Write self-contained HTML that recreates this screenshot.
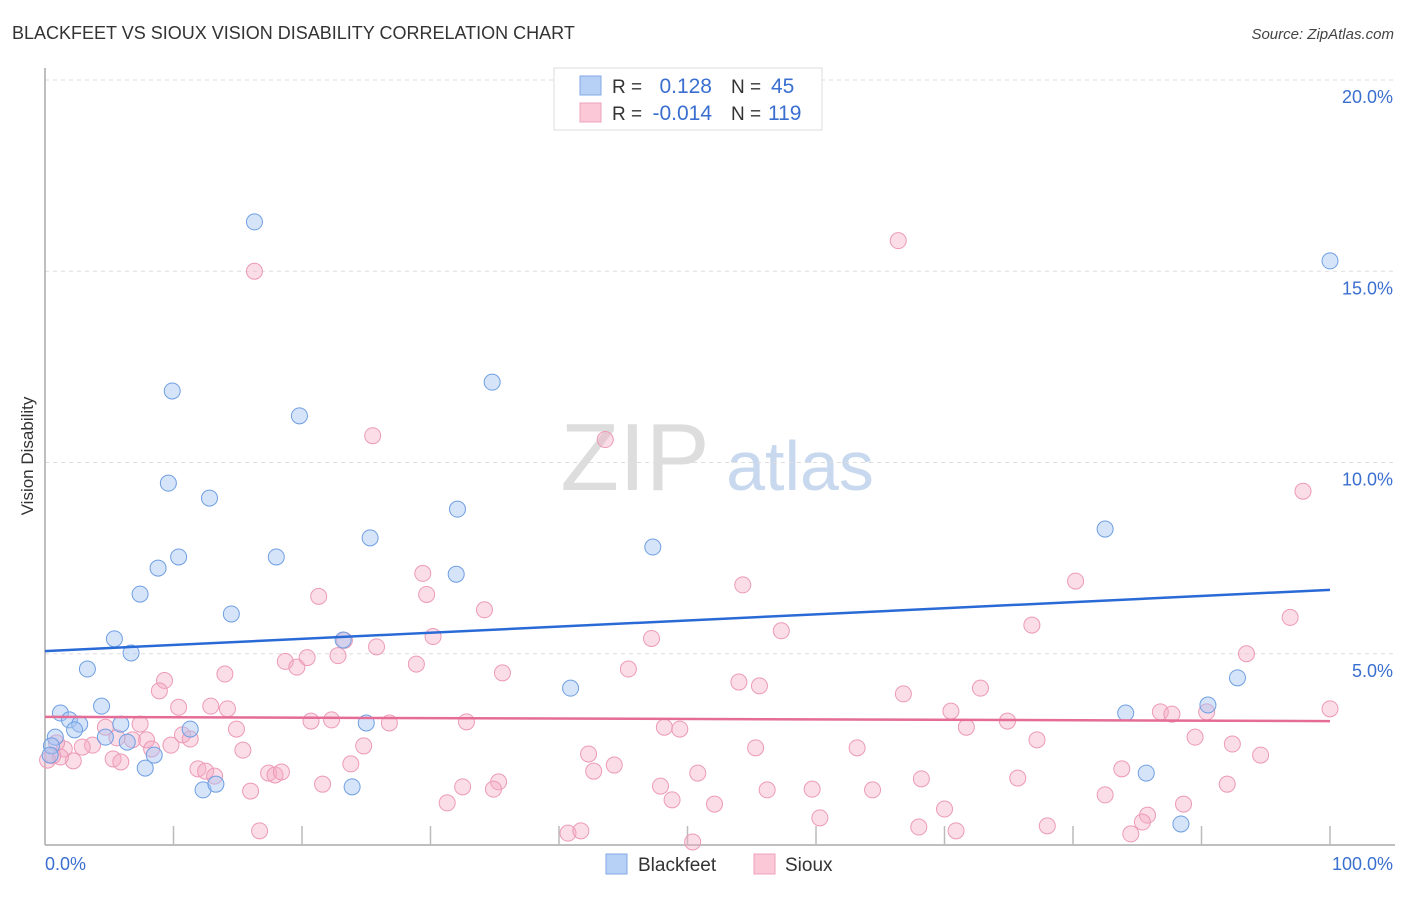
<!DOCTYPE html>
<html><head><meta charset="utf-8"><style>
body{margin:0;background:#fff;font-family:"Liberation Sans",sans-serif}
svg text{font-family:"Liberation Sans",sans-serif}
</style></head><body>
<svg id="chart" width="1406" height="892" xmlns="http://www.w3.org/2000/svg">
<text x="12" y="39" font-size="18" fill="#333">BLACKFEET VS SIOUX VISION DISABILITY CORRELATION CHART</text>
<text x="1394" y="39" font-size="15" fill="#444" text-anchor="end" font-style="italic">Source: ZipAtlas.com</text>
<text transform="translate(33,456) rotate(-90)" font-size="17" fill="#333" text-anchor="middle">Vision Disability</text>
<g>
<text x="635" y="490" font-size="96" fill="#ddd" text-anchor="middle" font-family="Liberation Serif">ZIP</text>
<text x="800" y="490" font-size="70" fill="#c8d8ee" text-anchor="middle">atlas</text>
</g>
<g id="grid"></g>
<line x1="45" y1="68" x2="45" y2="845" stroke="#aaa" stroke-width="1.5"/>
<line x1="45" y1="845" x2="1395" y2="845" stroke="#aaa" stroke-width="1.5"/>
<g id="ticks"></g>
<g id="pts"></g>
<g id="lines"></g>
<g>
<rect x="554" y="68" width="268" height="62" fill="#fff" stroke="#ddd"/>
<rect x="580" y="76" width="21" height="19" fill="#b7d0f5" stroke="#82aae6"/>
<rect x="580" y="103" width="21" height="19" fill="#fbc8d8" stroke="#eea0ba"/>
<text x="612" y="93" font-size="19" fill="#333">R =</text>
<text x="712" y="93" font-size="21" fill="#3a6fd0" text-anchor="end">0.128</text>
<text x="731" y="93" font-size="19" fill="#333">N =</text>
<text x="771" y="93" font-size="21" fill="#3a6fd0">45</text>
<text x="612" y="120" font-size="19" fill="#333">R =</text>
<text x="712" y="120" font-size="21" fill="#3a6fd0" text-anchor="end">-0.014</text>
<text x="731" y="120" font-size="19" fill="#333">N =</text>
<text x="768" y="120" font-size="21" fill="#3a6fd0">119</text>
</g>
<g>
<rect x="606" y="854" width="21" height="20" fill="#b7d0f5" stroke="#82aae6"/>
<text x="638" y="871" font-size="19" fill="#333">Blackfeet</text>
<rect x="754" y="854" width="21" height="20" fill="#fbc8d8" stroke="#eea0ba"/>
<text x="785" y="871" font-size="19" fill="#333">Sioux</text>
</g>
<text x="45" y="870" font-size="18" fill="#3a6fd0">0.0%</text>
<text x="1393" y="870" font-size="18" fill="#3a6fd0" text-anchor="end">100.0%</text>
</svg>
<script>
const yTicks=[5,10,15,20];
const yTickLabels=["5.0%","10.0%","15.0%","20.0%"];
const xTicks=[10,20,30,40,50,60,70,80,90,100];
const blackX=[16.3,100,9.9,34.8,19.8,9.6,12.8,32.1,82.5,25.3,47.3,10.4,18.0,8.8,32.0,7.4,14.5,5.4,6.7,23.2,3.3,40.9,92.8,4.4,1.2,90.5,84.1,1.9,2.7,5.9,2.3,11.3,25.0,0.8,4.7,6.4,0.5,8.5,7.8,85.7,12.3,13.3,23.9,88.4,0.4];
const blackY=[16.29,15.27,11.87,12.10,11.22,9.46,9.07,8.78,8.26,8.03,7.79,7.53,7.53,7.24,7.08,6.56,6.04,5.39,5.02,5.36,4.60,4.10,4.37,3.63,3.45,3.66,3.45,3.27,3.16,3.16,3.01,3.03,3.19,2.82,2.82,2.69,2.59,2.35,2.01,1.88,1.44,1.59,1.52,0.55,2.35];
const siouxX=[16.3,66.4,25.5,43.6,97.9,29.4,54.3,80.2,21.3,29.7,34.2,96.9,76.8,57.3,47.2,30.2,23.3,25.8,18.7,19.6,20.4,22.8,28.9,35.6,45.4,93.5,14.0,9.3,8.9,54.0,55.6,66.8,72.8,10.4,12.9,14.2,70.5,86.8,87.7,90.4,100,7.4,4.7,20.7,22.3,26.8,32.8,74.9,48.2,49.4,71.7,14.9,10.7,7.9,6.8,11.3,5.6,3.7,2.9,1.5,0.9,89.5,77.2,92.4,15.4,8.3,9.8,24.8,63.2,55.3,42.3,94.6,5.3,2.2,1.2,5.9,23.8,44.3,11.9,12.5,42.7,13.2,17.4,17.9,18.4,50.8,68.2,75.7,83.8,92.0,21.6,32.5,35.3,47.9,34.9,56.2,59.7,64.4,16.0,82.5,31.3,48.8,52.1,70.0,88.6,60.3,85.8,85.4,68.0,70.9,78.0,16.7,40.7,41.7,84.5,50.4,0.6,0.2];
const siouxY=[15.0,15.8,10.7,10.6,9.25,7.1,6.8,6.9,6.5,6.55,6.15,5.95,5.75,5.6,5.4,5.45,5.35,5.18,4.8,4.65,4.9,4.95,4.73,4.5,4.6,5.0,4.47,4.3,4.03,4.26,4.16,3.95,4.1,3.6,3.63,3.56,3.5,3.48,3.42,3.48,3.56,3.16,3.08,3.24,3.27,3.19,3.22,3.24,3.08,3.03,3.08,3.03,2.88,2.75,2.75,2.77,2.8,2.61,2.56,2.51,2.67,2.82,2.75,2.64,2.48,2.51,2.61,2.59,2.54,2.54,2.38,2.35,2.25,2.2,2.3,2.17,2.12,2.09,1.99,1.93,1.93,1.8,1.88,1.83,1.91,1.88,1.73,1.75,1.99,1.59,1.59,1.52,1.65,1.54,1.46,1.44,1.46,1.44,1.41,1.31,1.1,1.18,1.07,0.94,1.07,0.71,0.78,0.6,0.47,0.37,0.5,0.37,0.31,0.37,0.29,0.08,2.33,2.22];
const blackTrend=[5.07,6.67];
const siouxTrend=[3.35,3.24];
const NS="http://www.w3.org/2000/svg";
const xs=v=>45+v*12.85;
const ys=v=>845-v*38.25;
function mk(tag,attrs,parent){const e=document.createElementNS(NS,tag);for(const k in attrs)e.setAttribute(k,attrs[k]);parent.appendChild(e);return e;}
const grid=document.getElementById('grid');
yTicks.forEach((t,i)=>{
 const l=mk('line',{x1:45,x2:1395,y1:ys(t),y2:ys(t),stroke:'#ddd','stroke-dasharray':'4,4'},grid);
 
 
 const tx=mk('text',{x:1393,y:ys(t)+23,'font-size':18,fill:'#3a6fd0','text-anchor':'end'},grid);
 tx.textContent=yTickLabels[i];
 
 
});
const tk=document.getElementById('ticks');
xTicks.forEach(t=>{
 const l=mk('line',{x1:xs(t),x2:xs(t),y1:826,y2:845,stroke:'#bbb','stroke-width':1.5},tk);
 
 
});
const pts=document.getElementById('pts');
siouxX.forEach((x,i)=>{
 const c=mk('circle',{cx:xs(x),cy:ys(siouxY[i]),r:8,fill:'rgba(246,170,196,0.4)',stroke:'#ec9ab7','stroke-width':1},pts);
 
 
});
blackX.forEach((x,i)=>{
 const c=mk('circle',{cx:xs(x),cy:ys(blackY[i]),r:8,fill:'rgba(164,196,244,0.45)',stroke:'#6f9fe2','stroke-width':1},pts);
 
 
});
const ln=document.getElementById('lines');
const b=mk('line',{x1:xs(0),x2:xs(100),y1:ys(blackTrend[0]),y2:ys(blackTrend[1]),stroke:'#2a6ad6','stroke-width':2.5},ln);


const s=mk('line',{x1:xs(0),x2:xs(100),y1:ys(siouxTrend[0]),y2:ys(siouxTrend[1]),stroke:'#e46c96','stroke-width':2.5},ln);


</script>
</body></html>
